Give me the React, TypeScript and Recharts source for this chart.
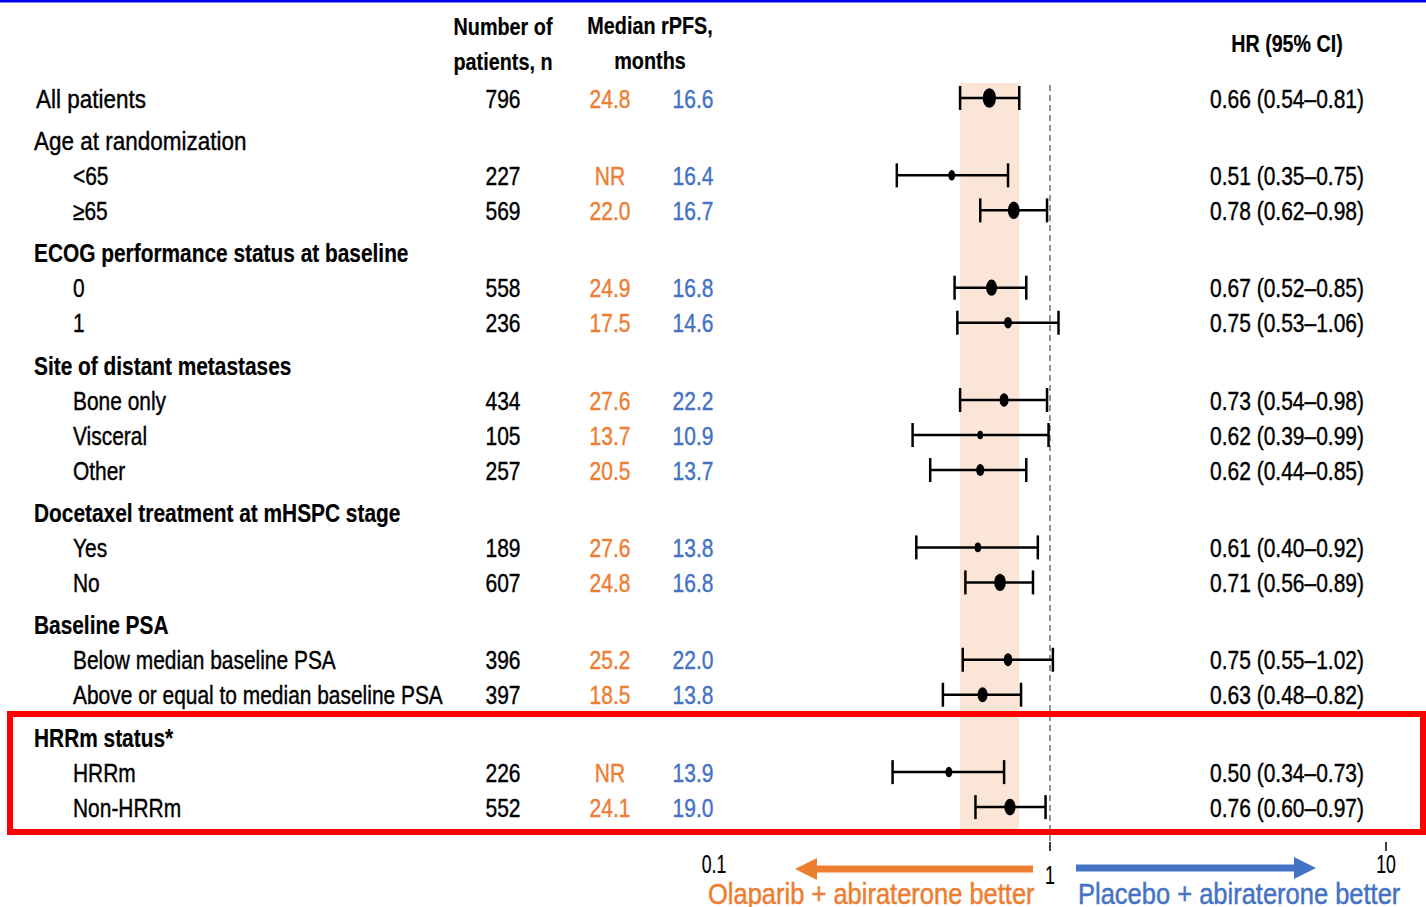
import React from 'react';
import { ScatterChart, Scatter, XAxis, YAxis, ReferenceArea, ReferenceLine, ErrorBar } from 'recharts';

const rowLabels = [
  'All patients', 'Age at randomization', '<65', '≥65',
  'ECOG performance status at baseline', '0', '1',
  'Site of distant metastases', 'Bone only', 'Visceral', 'Other',
  'Docetaxel treatment at mHSPC stage', 'Yes', 'No',
  'Baseline PSA', 'Below median baseline PSA', 'Above or equal to median baseline PSA',
  'HRRm status*', 'HRRm', 'Non-HRRm',
];
const rowKinds = [
  'total', 'group', 'sub', 'sub',
  'group', 'sub', 'sub',
  'group', 'sub', 'sub', 'sub',
  'group', 'sub', 'sub',
  'group', 'sub', 'sub',
  'group', 'sub', 'sub',
];
const patientCounts = [796, null, 227, 569, null, 558, 236, null, 434, 105, 257, null, 189, 607, null, 396, 397, null, 226, 552];
const olaparibMedians = ['24.8', null, 'NR', '22.0', null, '24.9', '17.5', null, '27.6', '13.7', '20.5', null, '27.6', '24.8', null, '25.2', '18.5', null, 'NR', '24.1'];
const placeboMedians = ['16.6', null, '16.4', '16.7', null, '16.8', '14.6', null, '22.2', '10.9', '13.7', null, '13.8', '16.8', null, '22.0', '13.8', null, '13.9', '19.0'];
const hazardRatios = [0.66, null, 0.51, 0.78, null, 0.67, 0.75, null, 0.73, 0.62, 0.62, null, 0.61, 0.71, null, 0.75, 0.63, null, 0.50, 0.76];
const ciLower = [0.54, null, 0.35, 0.62, null, 0.52, 0.53, null, 0.54, 0.39, 0.44, null, 0.40, 0.56, null, 0.55, 0.48, null, 0.34, 0.60];
const ciUpper = [0.81, null, 0.75, 0.98, null, 0.85, 1.06, null, 0.98, 0.99, 0.85, null, 0.92, 0.89, null, 1.02, 0.82, null, 0.73, 0.97];
const xTicks = [0.1, 1, 10];
const xTickLabels = ['0.1', '1', '10'];

const FONT = "'Liberation Sans', Arial, sans-serif";
const ORANGE = '#ED7D31';
const BLUE = '#4472C4';

// row positions: one unit per row, a little extra before each group heading
const positions: number[] = [];
rowKinds.forEach((k, i) => {
  if (i === 0) positions.push(0);
  else positions.push(positions[i - 1] + (k === 'group' ? 1.21 : 1));
});

const rows = rowLabels.map((label, i) => ({
  label,
  kind: rowKinds[i],
  n: patientCounts[i],
  medO: olaparibMedians[i],
  medP: placeboMedians[i],
  hr: hazardRatios[i],
  lo: ciLower[i],
  hi: ciUpper[i],
  pos: positions[i],
}));

const points = rows
  .filter((r) => r.hr != null)
  .map((r) => {
    const w = 1 / Math.pow(Math.log((r.hi as number) / (r.lo as number)), 2);
    return {
      ...r,
      err: [(r.hr as number) - (r.lo as number), (r.hi as number) - (r.hr as number)],
      weight: w,
    };
  });

// narrow text: a regular sans, squeezed horizontally around its anchor
const NT = (p: any) => {
  const { x, y, anchor = 'start', size = 25, weight = 400, fill = '#000', sx = 0.84, central = false, heavy = 0.4, children } = p;
  return (
    <text
      transform={`translate(${x},${y}) scale(${sx},1)`}
      textAnchor={anchor}
      fontSize={size}
      fontWeight={weight}
      fill={fill}
      stroke={fill}
      strokeWidth={heavy}
      fontFamily={FONT}
      dominantBaseline={central ? 'central' : undefined}
    >
      {children}
    </text>
  );
};

const RowTick = (props: any) => {
  const { y, payload } = props;
  const r = rows.find((row) => Math.abs(row.pos - payload.value) < 1e-6);
  if (!r) return null;
  const ty = y + 1;
  const top = r.kind === 'total' || r.label === 'Age at randomization';
  const labelX = r.kind === 'sub' ? 73 : r.kind === 'total' ? 36 : 34;
  return (
    <g>
      {top ? (
        <NT x={labelX} y={ty} size={26} sx={0.865} central>{r.label}</NT>
      ) : (
        <NT x={labelX} y={ty} weight={r.kind === 'group' ? 700 : 400} sx={r.kind === 'group' ? 0.835 : 0.837} heavy={r.kind === 'group' ? 0.2 : 0.4} central>
          {r.label}
        </NT>
      )}
      {r.n != null && <NT x={503} y={ty} anchor="middle" central>{r.n}</NT>}
      {r.medO != null && <NT x={610} y={ty} anchor="middle" fill={ORANGE} central>{r.medO}</NT>}
      {r.medP != null && <NT x={693} y={ty} anchor="middle" fill={BLUE} central>{r.medP}</NT>}
      {r.hr != null && (
        <NT x={1287} y={ty} anchor="middle" sx={0.84} central>
          {`${(r.hr as number).toFixed(2)} (${(r.lo as number).toFixed(2)}–${(r.hi as number).toFixed(2)})`}
        </NT>
      )}
    </g>
  );
};

const XTick = (props: any) => {
  const { x, y, payload } = props;
  const idx = xTicks.indexOf(payload.value);
  const label = idx >= 0 ? xTickLabels[idx] : String(payload.value);
  const isOne = payload.value === 1;
  return (
    <g>
      {payload.value >= 1 && <line x1={x} x2={x} y1={y + 1} y2={y + 10} stroke="#000" strokeWidth={1.5} />}
      <NT x={x} y={isOne ? y + 43 : y + 32} anchor="middle" size={26} sx={0.68} heavy={0.2}>{label}</NT>
    </g>
  );
};

const Dot = (props: any) => {
  const { cx, cy, payload } = props;
  if (cx == null || cy == null) return null;
  const w = 5.4 * Math.sqrt(payload.weight);
  return <ellipse cx={cx} cy={cy} rx={w / 2} ry={w * 0.74} fill="#000" />;
};

export default function App() {
  return (
    <div style={{ position: 'relative', width: 1426, height: 907, background: '#fff', overflow: 'hidden' }}>
      <style>{'body{margin:0}'}</style>
      <ScatterChart width={1426} height={907} margin={{ top: 83, right: 40, bottom: 0, left: 713 }}>
        <XAxis
          type="number"
          dataKey="hr"
          scale="log"
          domain={[0.1, 10]}
          ticks={xTicks}
          allowDataOverflow
          axisLine={false}
          tickLine={false}
          height={74}
          interval={0}
          tick={<XTick />}
        />
        <YAxis
          type="number"
          dataKey="pos"
          domain={[-15 / 35, 735 / 35]}
          reversed
          ticks={positions}
          interval={0}
          width={1}
          axisLine={false}
          tickLine={false}
          allowDataOverflow
          tick={<RowTick />}
        />
        <ReferenceArea x1={0.54} x2={0.81} y1={-15 / 35} y2={735 / 35} fill="#FBE5D6" fillOpacity={1} stroke="none" ifOverflow="visible" />
        <ReferenceLine
          segment={[{ x: 1, y: -13 / 35 }, { x: 1, y: 744 / 35 }]}
          stroke="#6f6f6f"
          strokeWidth={1.5}
          strokeDasharray="6 4"
          ifOverflow="visible"
        />
        <Scatter data={points} isAnimationActive={false} shape={<Dot />}>
          <ErrorBar dataKey="err" direction="x" width={12} strokeWidth={2.5} stroke="#000" />
        </Scatter>
      </ScatterChart>
      <svg width={1426} height={907} style={{ position: 'absolute', left: 0, top: 0, pointerEvents: 'none' }}>
        <rect x={0} y={0} width={1426} height={2.5} fill="#0000F0" />
        <NT x={503} y={35} anchor="middle" size={24} weight={700} sx={0.825} heavy={0.2}>Number of</NT>
        <NT x={503} y={70} anchor="middle" size={24} weight={700} sx={0.825} heavy={0.2}>patients, n</NT>
        <NT x={650} y={34} anchor="middle" size={24} weight={700} sx={0.825} heavy={0.2}>Median rPFS,</NT>
        <NT x={650} y={69} anchor="middle" size={24} weight={700} sx={0.825} heavy={0.2}>months</NT>
        <NT x={1287} y={52} anchor="middle" size={24} weight={700} sx={0.82} heavy={0.2}>HR (95% CI)</NT>
        <rect x={10} y={714} width={1413} height={118} fill="none" stroke="#FF0000" strokeWidth={6} />
        <rect x={815} y={865.5} width={218} height={7} fill={ORANGE} />
        <polygon points="795,869 817,858 817,880" fill={ORANGE} />
        <rect x={1076} y={864.5} width={220} height={7} fill={BLUE} />
        <polygon points="1316,868 1294,857 1294,879" fill={BLUE} />
        <NT x={708} y={904} size={30} sx={0.85} fill={ORANGE} heavy={0.5}>Olaparib + abiraterone better</NT>
        <NT x={1078} y={904} size={30} sx={0.85} fill={BLUE} heavy={0.5}>Placebo + abiraterone better</NT>
      </svg>
    </div>
  );
}
